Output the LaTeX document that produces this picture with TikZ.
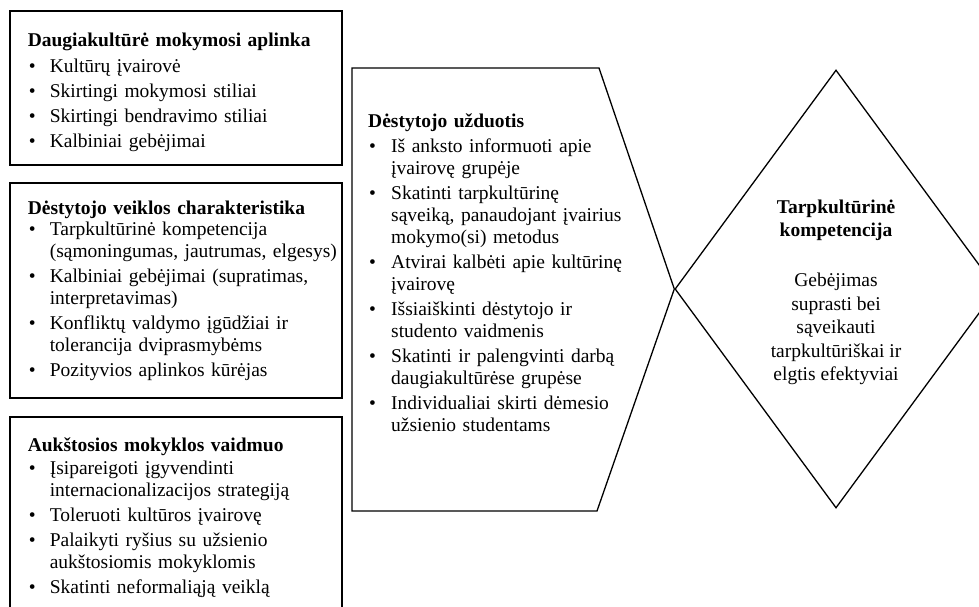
\documentclass[tikz,border=0pt]{standalone}
\usepackage{fontspec}
\setmainfont{Liberation Serif}
\usetikzlibrary{shapes.geometric}

\newlength{\bulletw}
\newlength{\headgap}
\newlength{\headstrut}
\setlength{\bulletw}{22pt}
\setlength{\headstrut}{20pt}
\newcommand{\boxhead}[2]{\setlength{\leftskip}{#1}\noindent
  \rule{0pt}{\headstrut}\textbf{#2}\par\vspace{\headgap}}
\newcommand{\bitem}[1]{\par\vspace{3pt}\hangindent=\bulletw\hangafter=1\noindent
  \makebox[\bulletw][l]{\hspace{1pt}\textbullet}#1}
\newcommand{\boxend}[1]{\rule[-#1]{0pt}{#1}\par}

\begin{document}
\begin{tikzpicture}[x=1pt,y=-1pt,
  infobox/.style={draw,line width=1.6pt,text width=332pt,inner xsep=0pt,
                  inner ysep=0pt,align=left,anchor=north west,
                  font=\fontsize{19.5}{22}\selectfont},
  tasktext/.style={text width=260pt,inner sep=0pt,align=left,anchor=north west,
                   font=\fontsize{19.5}{22}\selectfont},
  goal/.style={diamond,draw,line width=1.3pt,minimum width=294pt,
               minimum height=438pt,inner sep=0pt,align=center,
               font=\fontsize{19.5}{23.4}\selectfont}
]
  \clip (0,0) rectangle (979,607);

  % ---- Left column boxes ---------------------------------------
  \node[infobox,minimum height=154pt] (env) at (9,10)
    {\setlength{\headgap}{1.7pt}\setlength{\headstrut}{24pt}%
     \boxhead{18pt}{Daugiakultūrė mokymosi aplinka}
     \bitem{Kultūrų įvairovė}
     \bitem{Skirtingi mokymosi stiliai}
     \bitem{Skirtingi bendravimo stiliai}
     \bitem{Kalbiniai gebėjimai}\boxend{5.7pt}};
  \node[infobox,minimum height=215pt] (teacher) at (9,182)
    {\setlength{\headgap}{-4pt}\boxhead{18pt}{Dėstytojo veiklos charakteristika}
     \bitem{Tarpkultūrinė kompetencija\newline(sąmoningumas, jautrumas, elgesys)}
     \bitem{Kalbiniai gebėjimai (supratimas,\newline interpretavimas)}
     \bitem{Konfliktų valdymo įgūdžiai ir\newline tolerancija dviprasmybėms}
     \bitem{Pozityvios aplinkos kūrėjas}\boxend{9.4pt}};
  \node[infobox,minimum height=198pt] (school) at (9,416)
    {\setlength{\headgap}{-2.3pt}\boxhead{18pt}{Aukštosios mokyklos vaidmuo}
     \bitem{Įsipareigoti įgyvendinti\newline internacionalizacijos strategiją}
     \bitem{Toleruoti kultūros įvairovę}
     \bitem{Palaikyti ryšius su užsienio\newline aukštosiomis mokyklomis}
     \bitem{Skatinti neformaliąją veiklą}\boxend{6.3pt}};

  % ---- Goal diamond --------------------------------------------
  \node[goal] (comp) at (836,289)
    {\rule{0pt}{20pt}{\bfseries Tarpkultūrinė}\\{\bfseries kompetencija}\\[27pt]
     Gebėjimas\\suprasti bei\\sąveikauti\\tarpkultūriškai ir\\elgtis efektyviai};

  % ---- Teacher task pentagon -----------------------------------
  \draw[line width=1.3pt] (352,68) -- (599,68) -- (comp.west)
    -- (597,511) -- (352,511) -- cycle;
  \node[tasktext] (task) at (368,107)
    {\setlength{\bulletw}{23pt}\setlength{\headgap}{0pt}\boxhead{0pt}{Dėstytojo užduotis}
     \bitem{Iš anksto informuoti apie\newline įvairovę grupėje}
     \bitem{Skatinti tarpkultūrinę\newline sąveiką, panaudojant įvairius\newline mokymo(si) metodus}
     \bitem{Atvirai kalbėti apie kultūrinę\newline įvairovę}
     \bitem{Išsiaiškinti dėstytojo ir\newline studento vaidmenis}
     \bitem{Skatinti ir palengvinti darbą\newline daugiakultūrėse grupėse}
     \bitem{Individualiai skirti dėmesio\newline užsienio studentams}\par};

\end{tikzpicture}
\end{document}
